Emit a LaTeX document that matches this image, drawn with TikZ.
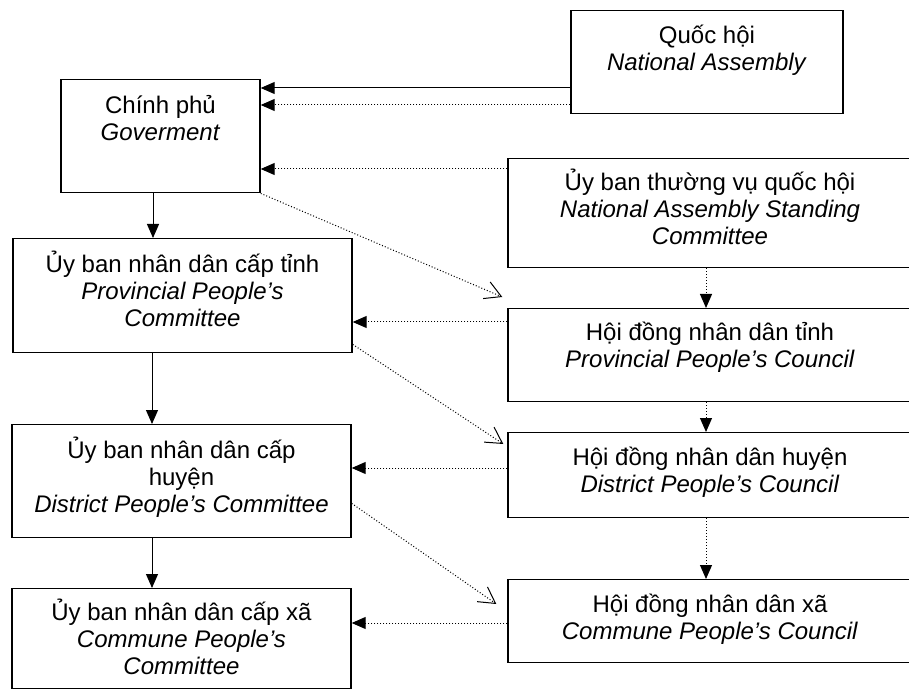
\documentclass[tikz,border=0pt]{standalone}
\usepackage{fontspec}
\setmainfont{Liberation Sans}
\usetikzlibrary{arrows.meta}
\tikzset{
	box/.style={draw, line width=0.7pt, anchor=north, align=center, inner sep=0pt, font=\fontsize{12}{13.5}\selectfont},
	lbox/.style={box, minimum width=169.5pt},
	rbox/.style={box, minimum width=202pt},
	link/.style={line width=0.5pt, -{Triangle[length=7pt,width=6pt]}},
	dotlink/.style={link, dash pattern=on 0.5pt off 1pt},
	hint/.style={line width=0.5pt, dash pattern=on 0.5pt off 1pt, -{Straight Barb[length=8pt,width=9pt]}}
}
\begin{document}
\begin{tikzpicture}[x=0.5pt, y=-0.5pt]
	\useasboundingbox (0,0) rectangle (909,689);
	\clip (0,0) rectangle (909,689);
	\node[box, minimum width=136pt, text height=30pt, text depth=21.5pt]	(qh) at (707,10)	{Quốc hội\\\textit{National Assembly}};
	\node[box, minimum width=99.5pt, text height=30.5pt, text depth=26pt]	(cp) at (160.5,79)	{Chính phủ\\\textit{Goverment}};
	\node[rbox, text height=43pt, text depth=11.5pt]	(ubtv) at (710,158)	{Ủy ban thường vụ quốc hội\\\textit{National Assembly Standing}\\\textit{Committee}};
	\node[lbox, text height=44pt, text depth=13pt]	(ubt) at (182.5,238)	{Ủy ban nhân dân cấp tỉnh\\\textit{Provincial People’s}\\\textit{Committee}};
	\node[rbox, text height=29.5pt, text depth=17pt]	(hdt) at (710,308)	{Hội đồng nhân dân tỉnh\\\textit{Provincial People’s Council}};
	\node[lbox, text height=44pt, text depth=12.5pt]	(ubh) at (181.5,424)	{Ủy ban nhân dân cấp\\huyện\\\textit{District People’s Committee}};
	\node[rbox, text height=30pt, text depth=12.5pt]	(hdh) at (710,432)	{Hội đồng nhân dân huyện\\\textit{District People’s Council}};
	\node[lbox, text height=43pt, text depth=7pt]	(ubx) at (181.5,588)	{Ủy ban nhân dân cấp xã\\\textit{Commune People’s}\\\textit{Committee}};
	\node[rbox, text height=30pt, text depth=11.5pt]	(hdx) at (710,579)	{Hội đồng nhân dân xã\\\textit{Commune People’s Council}};
	\path
	(qh.west |- 0,88) edge[link]	(cp.east |- 0,88)
	(qh.west |- 0,105) edge[dotlink]	(cp.east |- 0,105)
	(ubtv.west |- 0,169) edge[dotlink]	(cp.east |- 0,169)
	(cp.south -| 153,0) edge[link]	(ubt.north -| 153,0)
	(ubt.south -| 152,0) edge[link]	(ubh.north -| 152,0)
	(ubh.south -| 152,0) edge[link]	(ubx.north -| 152,0)
	(ubtv.south -| 706,0) edge[dotlink]	(hdt.north -| 706,0)
	(hdt.south -| 706,0) edge[dotlink]	(hdh.north -| 706,0)
	(hdh.south -| 706,0) edge[dotlink]	(hdx.north -| 706,0)
	(hdt.west |- 0,322) edge[dotlink]	(ubt.east |- 0,322)
	(hdh.west |- 0,468) edge[dotlink]	(ubh.east |- 0,468)
	(hdx.west |- 0,623) edge[dotlink]	(ubx.east |- 0,623)
	(cp.south east) edge[hint]	([shift={(-5,-11)}]hdt.north west)
	([shift={(0,-9)}]ubt.south east) edge[hint]	([shift={(-4,12)}]hdh.north west)
	([shift={(0,-35)}]ubh.south east) edge[hint]	([shift={(-11,25)}]hdx.north west)
	;
\end{tikzpicture}
\end{document}
